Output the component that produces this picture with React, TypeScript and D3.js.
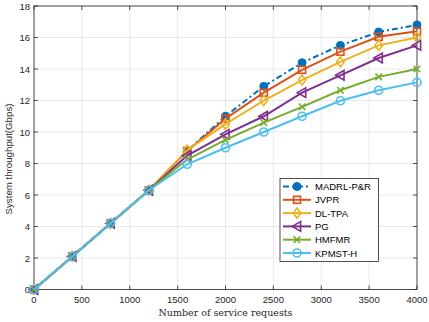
import React from "react";
import * as d3 from "d3";

const xValues = [0, 400, 800, 1200, 1600, 2000, 2400, 2800, 3200, 3600, 4000];
const seriesNames = ["MADRL-P&R", "JVPR", "DL-TPA", "PG", "HMFMR", "KPMST-H"];
const madrl = [0, 2.1, 4.2, 6.3, 8.8, 11.0, 12.9, 14.4, 15.5, 16.35, 16.8];
const jvpr = [0, 2.1, 4.2, 6.3, 8.8, 10.85, 12.5, 13.95, 15.1, 16.05, 16.4];
const dltpa = [0, 2.1, 4.2, 6.3, 8.85, 10.5, 12.0, 13.3, 14.45, 15.5, 16.0];
const pg = [0, 2.1, 4.2, 6.3, 8.5, 9.85, 11.0, 12.5, 13.6, 14.7, 15.5];
const hmfmr = [0, 2.1, 4.2, 6.3, 8.25, 9.5, 10.6, 11.6, 12.65, 13.5, 14.0];
const kpmst = [0, 2.1, 4.2, 6.3, 7.95, 9.0, 10.0, 11.0, 11.98, 12.65, 13.15];
const allSeries = [madrl, jvpr, dltpa, pg, hmfmr, kpmst];
const colors = ["#0072BD", "#D95319", "#EDB120", "#7E2F8E", "#77AC30", "#4DBEEE"];
const markers = ["filledCircle", "square", "diamond", "triangleLeft", "x", "circle"];
const xTicks = [0, 500, 1000, 1500, 2000, 2500, 3000, 3500, 4000];
const yTicks = [0, 2, 4, 6, 8, 10, 12, 14, 16, 18];
const xLabel = "Number of service requests";
const yLabel = "System throughput(Gbps)";

function Marker({ type, x, y, color }: { type: string; x: number; y: number; color: string }) {
  const r = 4;
  const sw = 1.6;
  switch (type) {
    case "filledCircle":
      return <circle cx={x} cy={y} r={r} fill={color} stroke={color} strokeWidth={1} />;
    case "circle":
      return <circle cx={x} cy={y} r={r} fill="none" stroke={color} strokeWidth={sw} />;
    case "square":
      return <rect x={x - 3.5} y={y - 3.5} width={7} height={7} fill="none" stroke={color} strokeWidth={sw} />;
    case "diamond":
      return (
        <path d={`M${x},${y - 5}L${x + 3.8},${y}L${x},${y + 5}L${x - 3.8},${y}Z`} fill="none" stroke={color} strokeWidth={sw} />
      );
    case "triangleLeft":
      return (
        <path d={`M${x - 4.8},${y}L${x + 3.6},${y - 4.8}L${x + 3.6},${y + 4.8}Z`} fill="none" stroke={color} strokeWidth={sw} />
      );
    case "x":
      return (
        <path d={`M${x - 3.3},${y - 3.3}L${x + 3.3},${y + 3.3}M${x - 3.3},${y + 3.3}L${x + 3.3},${y - 3.3}`} stroke={color} strokeWidth={sw} />
      );
    default:
      return null;
  }
}

export default function App() {
  const W = 429;
  const H = 322;
  const left = 34;
  const right = 417;
  const top = 6;
  const bottom = 289.5;
  const x = d3.scaleLinear().domain([0, 4000]).range([left, right]);
  const y = d3.scaleLinear().domain([0, 18]).range([bottom, top]);
  const line = d3
    .line<number>()
    .x((_, i) => x(xValues[i]))
    .y((d) => y(d));
  const tickFont = "'Liberation Sans', Arial, sans-serif";
  const tickLen = 4;

  const legX = 280;
  const legY = 178.5;
  const legW = 98.5;
  const legH = 83;
  const legRow = 13.3;

  return (
    <svg width={W} height={H} style={{ position: "absolute", left: 0, top: 0 }}>
      <rect x={0} y={0} width={W} height={H} fill="#fff" />
      <rect x={left} y={top} width={right - left} height={bottom - top} fill="#fff" />
      {/* grid */}
      {xTicks.map((t) => (
        <line key={"gx" + t} x1={x(t)} x2={x(t)} y1={top} y2={bottom} stroke="#e3e3e3" strokeWidth={0.8} />
      ))}
      {yTicks.map((t) => (
        <line key={"gy" + t} x1={left} x2={right} y1={y(t)} y2={y(t)} stroke="#e3e3e3" strokeWidth={0.8} />
      ))}
      {/* box */}
      <rect x={left} y={top} width={right - left} height={bottom - top} fill="none" stroke="#262626" strokeWidth={0.8} />
      {/* ticks */}
      {xTicks.map((t) => (
        <g key={"tx" + t}>
          <line x1={x(t)} x2={x(t)} y1={bottom} y2={bottom - tickLen} stroke="#262626" strokeWidth={0.8} />
          <line x1={x(t)} x2={x(t)} y1={top} y2={top + tickLen} stroke="#262626" strokeWidth={0.8} />
          <text x={x(t)} y={bottom + 13} textAnchor="middle" fontFamily={tickFont} fontSize={9.5} fill="#262626">
            {t}
          </text>
        </g>
      ))}
      {yTicks.map((t) => (
        <g key={"ty" + t}>
          <line x1={left} x2={left + tickLen} y1={y(t)} y2={y(t)} stroke="#262626" strokeWidth={0.8} />
          <line x1={right} x2={right - tickLen} y1={y(t)} y2={y(t)} stroke="#262626" strokeWidth={0.8} />
          <text x={left - 4} y={y(t) + 3.5} textAnchor="end" fontFamily={tickFont} fontSize={9.5} fill="#262626">
            {t}
          </text>
        </g>
      ))}
      {/* axis labels */}
      <text x={(left + right) / 2} y={316} textAnchor="middle" fontFamily="'DejaVu Serif', 'Liberation Serif', serif" fontSize={9.5} fill="#262626">
        {xLabel}
      </text>
      <text
        transform={`translate(12, 159) rotate(-90)`}
        textAnchor="middle"
        fontFamily={tickFont}
        fontSize={9.7}
        fill="#262626"
      >
        {yLabel}
      </text>
      {/* series */}
      {allSeries.map((s, si) => (
        <g key={"s" + si}>
          <path
            d={line(s) || ""}
            fill="none"
            stroke={colors[si]}
            strokeWidth={2}
            strokeDasharray={si === 0 ? "6,3,2,3" : undefined}
          />
          {s.map((v, i) => (
            <Marker key={i} type={markers[si]} x={x(xValues[i])} y={y(v)} color={colors[si]} />
          ))}
        </g>
      ))}
      {/* legend */}
      <rect x={legX} y={legY} width={legW} height={legH} fill="#fff" stroke="#262626" strokeWidth={0.8} />
      {seriesNames.map((n, i) => {
        const cy = legY + 8 + i * legRow;
        return (
          <g key={"l" + i}>
            <line
              x1={legX + 3}
              x2={legX + 31}
              y1={cy}
              y2={cy}
              stroke={colors[i]}
              strokeWidth={2}
              strokeDasharray={i === 0 ? "6,3,2,3" : undefined}
            />
            <Marker type={markers[i]} x={legX + 17} y={cy} color={colors[i]} />
            <text x={legX + 35} y={cy + 3.5} fontFamily={tickFont} fontSize={9.5} fill="#000">
              {n}
            </text>
          </g>
        );
      })}
    </svg>
  );
}
